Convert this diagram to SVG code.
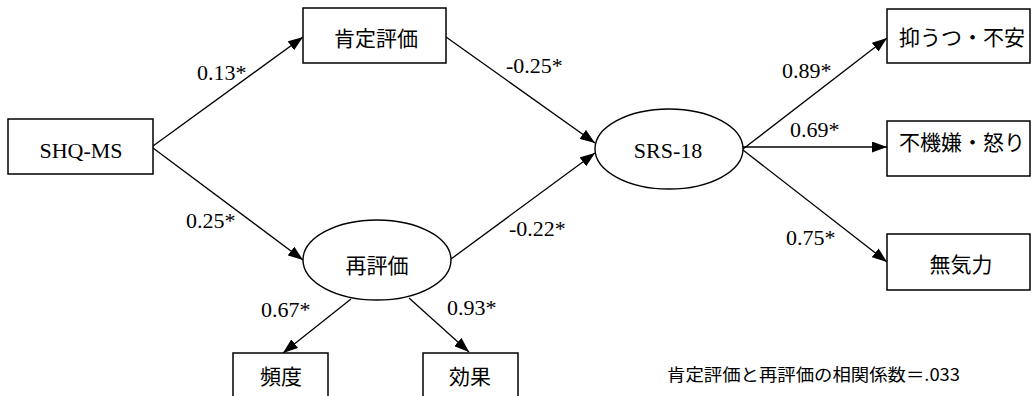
<svg xmlns="http://www.w3.org/2000/svg" width="1035" height="396" viewBox="0 0 1035 396">
<style>
.box{fill:#fff;stroke:#000;stroke-width:1.5}
.ell{fill:#fff;stroke:#000;stroke-width:1.4}
.ln{stroke:#000;stroke-width:1.3;fill:none;marker-end:url(#ah)}
.en{font-family:"Liberation Serif","DejaVu Serif",serif;font-size:22px;fill:#000}
.jp{font-family:"Noto Sans CJK JP","Noto Sans",sans-serif;font-size:21px;fill:#000;text-anchor:middle}
.lb{font-family:"Liberation Serif","DejaVu Serif",serif;font-size:22px;fill:#000}
.note{font-family:"Noto Sans CJK JP","Noto Sans",sans-serif;font-size:17px;fill:#000}
</style>
<defs>
<marker id="ah" markerUnits="userSpaceOnUse" markerWidth="15" markerHeight="11" refX="15" refY="5.5" orient="auto">
<path d="M0,0 L15,5.5 L0,11 z" fill="#000"/>
</marker>
</defs>
<rect width="1035" height="396" fill="#fff"/>
<g id="connectors">
<line class="ln" x1="153" y1="146" x2="303" y2="37"/>
<line class="ln" x1="153" y1="148" x2="303" y2="260"/>
<line class="ln" x1="446" y1="37" x2="595" y2="143"/>
<line class="ln" x1="451" y1="259" x2="595" y2="153"/>
<line class="ln" x1="351" y1="299" x2="283" y2="353"/>
<line class="ln" x1="409" y1="298" x2="469" y2="352"/>
<line class="ln" x1="743" y1="149" x2="887" y2="38"/>
<line class="ln" x1="743" y1="147" x2="887" y2="147"/>
<line class="ln" x1="743" y1="150" x2="887" y2="262"/>
<text class="lb" x="197" y="80">0.13*</text>
<text class="lb" x="186" y="228">0.25*</text>
<text class="lb" x="261" y="317">0.67*</text>
<text class="lb" x="447" y="315">0.93*</text>
<text class="lb" x="506" y="73">-0.25*</text>
<text class="lb" x="509" y="236">-0.22*</text>
<text class="lb" x="782" y="78">0.89*</text>
<text class="lb" x="790" y="137">0.69*</text>
<text class="lb" x="786" y="245">0.75*</text>
</g>
<g id="shq">
<rect class="box" x="8" y="119" width="145" height="55"/>
<text class="en" x="81" y="158" text-anchor="middle">SHQ-MS</text>
</g>
<g id="koutei">
<rect class="box" x="303" y="8" width="143" height="55"/>
<text class="jp" x="376" y="46">肯定評価</text>
</g>
<g id="saihyoka">
<ellipse class="ell" cx="377" cy="260" rx="74" ry="40"/>
<text class="jp" x="377" y="273">再評価</text>
</g>
<g id="hindo">
<rect class="box" x="233" y="353" width="95" height="50"/>
<text class="jp" x="281" y="384">頻度</text>
</g>
<g id="koka">
<rect class="box" x="423" y="353" width="95" height="50"/>
<text class="jp" x="470" y="384">効果</text>
</g>
<g id="srs">
<ellipse class="ell" cx="669" cy="149" rx="74" ry="40"/>
<text class="en" x="668" y="158" text-anchor="middle">SRS-18</text>
</g>
<g id="yokuutsu">
<rect class="box" x="887" y="9" width="143" height="54"/>
<text class="jp" x="962" y="45">抑うつ・不安</text>
</g>
<g id="fukigen">
<rect class="box" x="887" y="121" width="143" height="55"/>
<text class="jp" x="962" y="150">不機嫌・怒り</text>
</g>
<g id="mukiryoku">
<rect class="box" x="887" y="234" width="143" height="56"/>
<text class="jp" x="961" y="272">無気力</text>
</g>
<g id="note">
<text class="note" x="667" y="381" textLength="293" lengthAdjust="spacingAndGlyphs">肯定評価と再評価の相関係数＝.033</text>
</g>
</svg>
